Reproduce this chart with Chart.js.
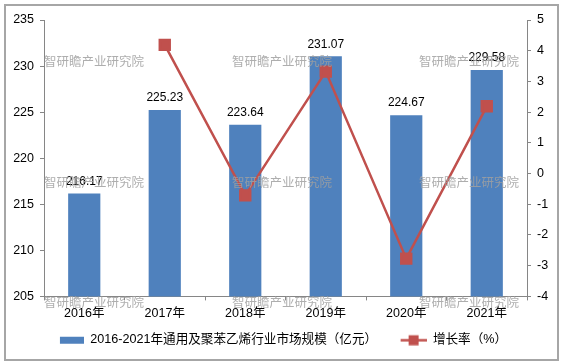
<!DOCTYPE html>
<html><head><meta charset="utf-8">
<script src="https://cdn.jsdelivr.net/npm/chart.js@4/dist/chart.umd.min.js"></script>
<style>
html,body{margin:0;padding:0;background:#fff;}
#wrap{position:absolute;left:0;top:0;width:563px;height:363px;}
#frame{position:absolute;left:4px;top:4px;width:551px;height:353px;border:2px solid #A6A6A6;pointer-events:none;}
</style></head>
<body>
<div id="wrap"><canvas id="c" width="563" height="363"></canvas><div id="frame"></div></div>
<script>
const categories = ['2016年','2017年','2018年','2019年','2020年','2021年'];
const marketSize = [216.17, 225.23, 223.64, 231.07, 224.67, 229.58];
const growthRate = [null, 4.19, -0.71, 3.32, -2.77, 2.19];
const barLabel = '2016-2021年通用及聚苯乙烯行业市场规模（亿元）';
const lineLabel = '增长率（%）';
const watermark = '智研瞻产业研究院';

const FONT = '"Liberation Sans", Arial, "Noto Sans CJK SC", sans-serif';
const BLUE = '#4F81BD', RED = '#C0504D';

function makeIcon(kind){
  const cv = document.createElement('canvas');
  cv.width = 28; cv.height = 12;
  const g = cv.getContext('2d');
  if(kind==='bar'){ g.fillStyle = BLUE; g.fillRect(4,3,24,7); }
  else { g.strokeStyle = RED; g.lineWidth = 2.5; g.beginPath(); g.moveTo(2,6.5); g.lineTo(28,6.5); g.stroke();
    g.fillStyle = RED; g.fillRect(10,1.5,10,10); }
  return cv;
}

const labelPlugin = {
  id:'barLabels',
  afterDatasetsDraw(chart){
    const ctx = chart.ctx;
    const meta = chart.getDatasetMeta(1);
    ctx.save();
    ctx.font = '12px ' + FONT;
    ctx.fillStyle = '#000';
    ctx.textAlign = 'center';
    ctx.textBaseline = 'middle';
    meta.data.forEach((el,i)=>{
      ctx.fillText(marketSize[i].toFixed(2), el.x, el.y - 12);
    });
    ctx.restore();
  }
};

const watermarkPlugin = {
  id:'wm',
  afterDraw(chart){
    const ctx = chart.ctx;
    ctx.save();
    ctx.font = '12.5px "Noto Sans CJK SC", sans-serif';
    ctx.fillStyle = 'rgba(160,160,160,0.85)';
    ctx.textAlign = 'left';
    ctx.textBaseline = 'middle';
    const xs = [44, 232, 419], ys = [61, 182, 302];
    ys.forEach(y=>xs.forEach(x=>ctx.fillText(watermark, x, y)));
    ctx.restore();
  }
};

Chart.defaults.font.family = FONT;
Chart.defaults.font.size = 12;
Chart.defaults.color = '#000';

const GAP = '\u00A0\u00A0\u00A0';

new Chart(document.getElementById('c'), {
  data:{
    labels: categories,
    datasets:[
      { type:'line', label: lineLabel, data: growthRate, yAxisID:'y1',
        borderColor: RED, backgroundColor: RED, borderWidth: 2.5,
        pointStyle:'rect', pointRadius: 7, pointHoverRadius:7, pointBackgroundColor: RED, pointBorderColor: RED,
        spanGaps:false, order:0 },
      { type:'bar', label: barLabel, data: marketSize, yAxisID:'y',
        backgroundColor: BLUE, borderWidth:0, barPercentage:0.4, categoryPercentage:1.0, order:1 }
    ]
  },
  options:{
    responsive:false, animation:false,
    layout:{ padding:{ top:20, left:0, right:0, bottom:7 } },
    plugins:{
      tooltip:{enabled:false},
      legend:{
        position:'bottom',
        reverse:true,
        labels:{
          usePointStyle:true, pointStyleWidth:28, boxHeight:12,
          padding:11,
          font:{ size:12.6, family:FONT },
          color:'#000',
          generateLabels(chart){
            return [
              { text: lineLabel, pointStyle: makeIcon('line'), datasetIndex:0, fillStyle:RED, strokeStyle:RED, lineWidth:0 },
              { text: barLabel + GAP, pointStyle: makeIcon('bar'), datasetIndex:1, fillStyle:BLUE, strokeStyle:BLUE, lineWidth:0 }
            ];
          }
        }
      }
    },
    scales:{
      x:{
        offset:true,
        afterFit(s){ s.height = 26; },
        grid:{ offset:true, drawOnChartArea:false, drawTicks:true, tickLength:4, color:'#868686' },
        border:{ color:'#868686', width:1 },
        ticks:{ font:{size:12.5}, color:'#000', padding:6 }
      },
      y:{
        position:'left', min:205, max:235,
        afterFit(s){ s.width = 44; },
        ticks:{ stepSize:5, font:{size:12.5}, color:'#000', padding:6 },
        grid:{ drawOnChartArea:false, drawTicks:true, tickLength:4, color:'#868686' },
        border:{ color:'#868686', width:1 }
      },
      y1:{
        position:'right', min:-4, max:5,
        afterFit(s){ s.width = 36; },
        ticks:{ stepSize:1, font:{size:12.5}, color:'#000', padding:6 },
        grid:{ drawOnChartArea:false, drawTicks:true, tickLength:4, color:'#868686' },
        border:{ color:'#868686', width:1 }
      }
    }
  },
  plugins:[labelPlugin, watermarkPlugin]
});
</script>
</body></html>
